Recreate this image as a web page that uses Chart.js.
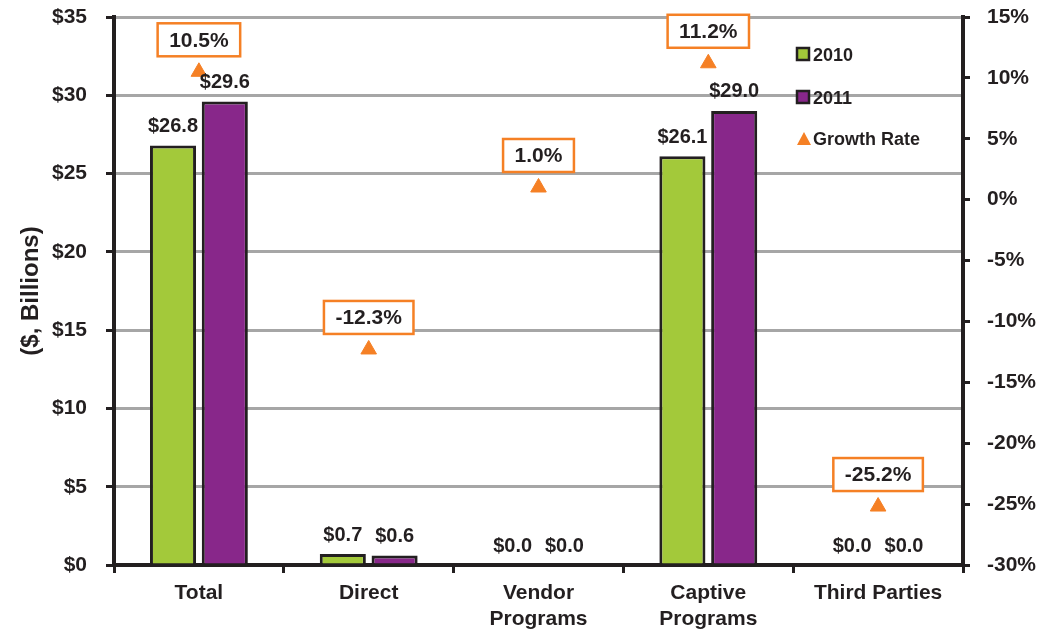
<!DOCTYPE html>
<html>
<head>
<meta charset="utf-8">
<script src="https://cdn.jsdelivr.net/npm/chart.js@4/dist/chart.umd.min.js"></script>
<style>
  html, body { margin: 0; padding: 0; background: #fff; }
  #wrap { width: 1042px; height: 635px; }
</style>
</head>
<body>
<div id="wrap"><canvas id="myChart" width="1042" height="635"></canvas></div>
<script>
// chart data
const categories = ["Total", "Direct", ["Vendor", "Programs"], ["Captive", "Programs"], "Third Parties"];
const sales2010 = [26.8, 0.7, 0.0, 26.1, 0.0];
const sales2011 = [29.6, 0.6, 0.0, 29.0, 0.0];
const growthRate = [10.5, -12.3, 1.0, 11.2, -25.2];
const leftTicks = [0, 5, 10, 15, 20, 25, 30, 35];
const rightTicks = [-30, -25, -20, -15, -10, -5, 0, 5, 10, 15];

const GREEN = "#a3c93a";
const PURPLE = "#88278a";
const ORANGE = "#f58025";
const INK = "#231f20";
const FONT = "Liberation Sans, Arial, sans-serif";

// draws value labels, growth boxes and the legend
const labelPlugin = {
  id: "labelPlugin",
  afterDatasetsDraw(chart) {
    const ctx = chart.ctx;
    ctx.save();
    ctx.fillStyle = INK;
    ctx.textAlign = "center";
    ctx.textBaseline = "middle";
    ctx.font = "bold 20px " + FONT;
    [0, 1].forEach((di) => {
      const meta = chart.getDatasetMeta(di);
      const vals = chart.data.datasets[di].data;
      meta.data.forEach((bar, i) => {
        ctx.fillText("$" + vals[i].toFixed(1), bar.x, bar.y - 19);
      });
    });

    // growth rate boxes
    const gm = chart.getDatasetMeta(2);
    ctx.font = "bold 21px " + FONT;
    gm.data.forEach((pt, i) => {
      const txt = growthRate[i].toFixed(1) + "%";
      const w = ctx.measureText(txt).width + 23;
      const h = 33;
      const cy = pt.y - 32;
      ctx.fillStyle = "#fff";
      ctx.fillRect(pt.x - w / 2, cy - h / 2, w, h);
      ctx.strokeStyle = ORANGE;
      ctx.lineWidth = 2.5;
      ctx.strokeRect(pt.x - w / 2, cy - h / 2, w, h);
      ctx.fillStyle = INK;
      ctx.fillText(txt, pt.x, cy + 1);
    });

    // legend
    const lx = 797;
    ctx.font = "bold 18px " + FONT;
    ctx.textAlign = "left";
    [["2010", GREEN, 54], ["2011", PURPLE, 97]].forEach(([name, col, y]) => {
      ctx.fillStyle = col;
      ctx.fillRect(lx, y - 6, 12, 12);
      ctx.strokeStyle = INK;
      ctx.lineWidth = 2.5;
      ctx.strokeRect(lx, y - 6, 12, 12);
      ctx.fillStyle = INK;
      ctx.fillText(name, lx + 16, y + 2);
    });
    ctx.fillStyle = ORANGE;
    ctx.beginPath();
    ctx.moveTo(lx + 7, 132);
    ctx.lineTo(lx + 14, 145);
    ctx.lineTo(lx, 145);
    ctx.closePath();
    ctx.fill();
    ctx.fillStyle = INK;
    ctx.fillText("Growth Rate", lx + 16, 140);
    ctx.restore();
  },
};

// keep the plot area fixed regardless of label sizes
const fitVertical = (width) => (scale) => {
  scale.width = width;
  scale.paddingTop = 0;
  scale.paddingBottom = 0;
};

const ctx = document.getElementById("myChart");
new Chart(ctx, {
  type: "bar",
  data: {
    labels: categories,
    datasets: [
      {
        label: "2010",
        data: sales2010,
        backgroundColor: GREEN,
        borderColor: INK,
        borderWidth: 3,
        categoryPercentage: 0.61,
        barPercentage: 0.89,
        yAxisID: "y",
      },
      {
        label: "2011",
        data: sales2011,
        backgroundColor: PURPLE,
        borderColor: INK,
        borderWidth: 3,
        categoryPercentage: 0.61,
        barPercentage: 0.89,
        yAxisID: "y",
      },
      {
        type: "line",
        label: "Growth Rate",
        data: growthRate,
        showLine: false,
        pointStyle: "triangle",
        pointRadius: 9,
        backgroundColor: ORANGE,
        borderColor: ORANGE,
        borderWidth: 1,
        yAxisID: "y1",
      },
    ],
  },
  options: {
    responsive: false,
    animation: false,
    layout: { padding: { top: 17, left: 0, right: 0, bottom: 0 } },
    scales: {
      x: {
        offset: true,
        grid: {
          offset: true,
          drawOnChartArea: false,
          color: INK,
          lineWidth: 3,
          tickLength: 8,
        },
        border: { color: INK, width: 4 },
        ticks: {
          color: INK,
          padding: 8,
          maxRotation: 0,
          font: { family: FONT, size: 21, weight: "bold", lineHeight: 1.2 },
        },
        afterFit(scale) {
          scale.height = 70;
          scale.paddingLeft = 0;
          scale.paddingRight = 0;
        },
      },
      y: {
        position: "left",
        min: 0,
        max: 35,
        afterBuildTicks(scale) { scale.ticks = leftTicks.map((v) => ({ value: v })); },
        grid: {
          color: "#a6a6a6",
          lineWidth: 3,
          tickColor: INK,
          tickLength: 8,
        },
        border: { color: INK, width: 4 },
        ticks: {
          color: INK,
          padding: 19,
          font: { family: FONT, size: 21, weight: "bold" },
          callback: (v) => "$" + v,
        },
        title: {
          display: true,
          text: "($, Billions)",
          color: INK,
          padding: { top: 17, bottom: 0 },
          font: { family: FONT, size: 24, weight: "bold" },
        },
        afterFit: fitVertical(114),
      },
      y1: {
        position: "right",
        min: -30,
        max: 15,
        afterBuildTicks(scale) { scale.ticks = rightTicks.map((v) => ({ value: v })); },
        grid: {
          drawOnChartArea: false,
          color: INK,
          lineWidth: 3,
          tickLength: 7,
        },
        border: { color: INK, width: 4 },
        ticks: {
          color: INK,
          padding: 17,
          font: { family: FONT, size: 21, weight: "bold" },
          callback: (v) => v + "%",
        },
        afterFit: fitVertical(79),
      },
    },
    plugins: {
      legend: { display: false },
      tooltip: { enabled: false },
    },
  },
  plugins: [labelPlugin],
});
</script>
</body>
</html>
